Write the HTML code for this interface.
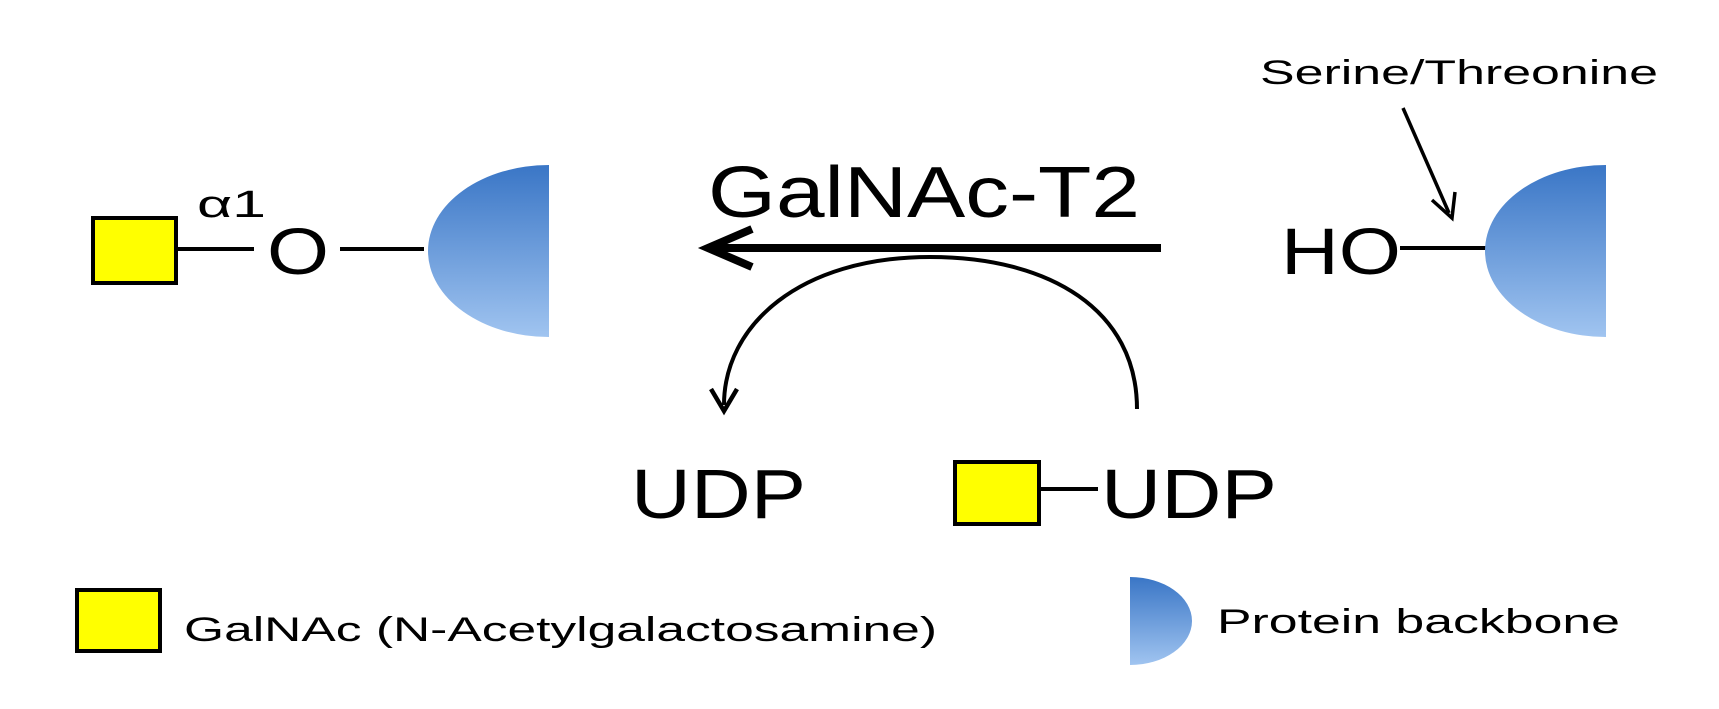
<!DOCTYPE html>
<html><head><meta charset="utf-8"><style>
html,body{margin:0;padding:0;background:#fff;}
svg{display:block;}
text{font-family:"Liberation Sans",sans-serif;fill:#000;}
</style></head><body>
<svg width="1719" height="709" viewBox="0 0 1719 709" xmlns="http://www.w3.org/2000/svg">
<defs>
<linearGradient id="g" x1="0" y1="0" x2="0" y2="1">
<stop offset="0" stop-color="#3a76c6"/><stop offset="1" stop-color="#a0c4f0"/>
</linearGradient>
</defs>
<!-- left product -->
<rect x="93" y="218" width="83" height="65" fill="#ffff00" stroke="#000" stroke-width="4"/>
<line x1="176" y1="249" x2="254" y2="249" stroke="#000" stroke-width="4"/>
<text x="197" y="217" font-size="38" textLength="69" lengthAdjust="spacingAndGlyphs">α1</text>
<text x="267" y="274" font-size="66" textLength="62" lengthAdjust="spacingAndGlyphs">O</text>
<line x1="340" y1="249" x2="424" y2="249" stroke="#000" stroke-width="4"/>
<path d="M549 165 L549 337 A121 86 0 0 1 549 165 Z" fill="url(#g)"/>
<!-- main arrow -->
<text x="708" y="217" font-size="72" textLength="432" lengthAdjust="spacingAndGlyphs">GalNAc-T2</text>
<line x1="714" y1="248" x2="1161" y2="248" stroke="#000" stroke-width="8"/>
<path d="M752 229 L708 248 L752 267" fill="none" stroke="#000" stroke-width="8" stroke-linejoin="miter"/>
<!-- curve -->
<path d="M1137 409 C1137 310 1050 257 930 257 C800 257 724 325 724 405" fill="none" stroke="#000" stroke-width="4"/>
<path d="M711 389 L724 411 L737 389" fill="none" stroke="#000" stroke-width="4.5"/>
<text x="631" y="518" font-size="70" textLength="175" lengthAdjust="spacingAndGlyphs">UDP</text>
<rect x="955" y="462" width="84" height="62" fill="#ffff00" stroke="#000" stroke-width="4"/>
<line x1="1039" y1="489" x2="1098" y2="489" stroke="#000" stroke-width="4"/>
<text x="1101" y="518" font-size="70" textLength="176" lengthAdjust="spacingAndGlyphs">UDP</text>
<!-- right substrate -->
<text x="1260" y="84" font-size="34" textLength="398" lengthAdjust="spacingAndGlyphs">Serine/Threonine</text>
<line x1="1403" y1="108" x2="1449" y2="213" stroke="#000" stroke-width="3.5"/>
<path d="M1432 200 L1452 218 L1455 192" fill="none" stroke="#000" stroke-width="3.5"/>
<text x="1281" y="274" font-size="66" textLength="120" lengthAdjust="spacingAndGlyphs">HO</text>
<line x1="1400" y1="248" x2="1486" y2="248" stroke="#000" stroke-width="4"/>
<path d="M1606 165 L1606 337 A121 86 0 0 1 1606 165 Z" fill="url(#g)"/>
<!-- legend -->
<rect x="77" y="590" width="83" height="61" fill="#ffff00" stroke="#000" stroke-width="4"/>
<text x="184" y="641" font-size="34" textLength="753" lengthAdjust="spacingAndGlyphs">GalNAc (N-Acetylgalactosamine)</text>
<path d="M1130 577 L1130 665 A62 44 0 0 0 1130 577 Z" fill="url(#g)"/>
<text x="1217" y="633" font-size="34" textLength="403" lengthAdjust="spacingAndGlyphs">Protein backbone</text>
</svg>
</body></html>
